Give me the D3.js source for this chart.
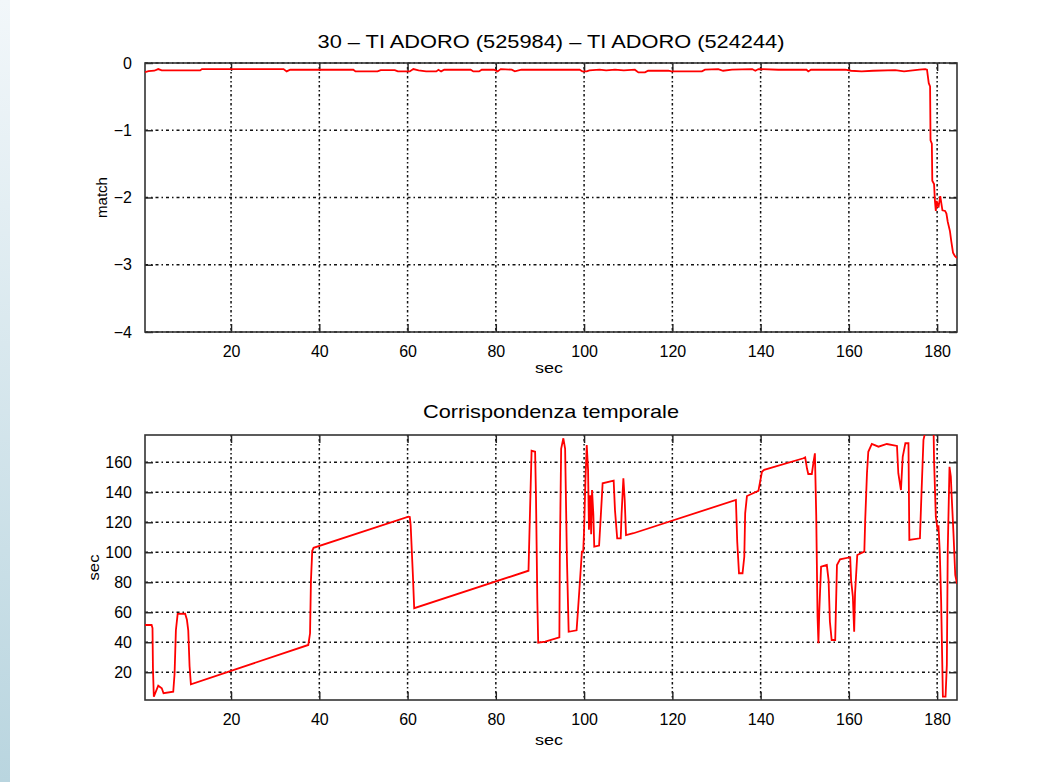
<!DOCTYPE html>
<html><head><meta charset="utf-8">
<script src="https://cdn.jsdelivr.net/npm/d3@7"></script>
<style>html,body{margin:0;padding:0;background:#fff;}svg{display:block;}</style>
</head><body>
<script>
// ---------- DATA ----------
const titleTop = "30 \u2013 TI ADORO (525984) \u2013 TI ADORO (524244)";
const titleBottom = "Corrispondenza temporale";
const xTicks = [20, 40, 60, 80, 100, 120, 140, 160, 180];
const matchTicks = [0, -1, -2, -3, -4];
const corrTicks = [20, 40, 60, 80, 100, 120, 140, 160];
const xDomain = [0.5, 184.5];
const matchDomain = [-4, 0];
const corrDomain = [1.5, 178.2];

// match vs time  [sec, match]
const matchSeries = [[0.5,-0.135],[1.3,-0.12],[2.6,-0.115],[3.5,-0.09],[4.3,-0.11],[13.0,-0.11],[13.4,-0.09],[31.9,-0.09],[32.6,-0.125],[33.4,-0.1],[47.7,-0.1],[48.2,-0.125],[53.2,-0.125],[53.9,-0.105],[57.1,-0.105],[57.8,-0.125],[60.5,-0.125],[61.3,-0.09],[62.5,-0.11],[64.2,-0.125],[66.5,-0.125],[67.0,-0.1],[67.6,-0.125],[68.3,-0.1],[74.3,-0.1],[74.9,-0.125],[76.2,-0.125],[76.8,-0.1],[79.6,-0.1],[80.4,-0.125],[81.1,-0.09],[83.6,-0.1],[84.3,-0.125],[85.8,-0.1],[99.0,-0.1],[99.6,-0.125],[100.6,-0.125],[101.2,-0.11],[103.5,-0.1],[105,-0.11],[107,-0.1],[109,-0.11],[111.5,-0.1],[112.3,-0.14],[113.8,-0.14],[114.5,-0.115],[119.1,-0.115],[119.8,-0.125],[126.7,-0.125],[127.4,-0.1],[130.4,-0.09],[131.5,-0.115],[133.5,-0.1],[138.1,-0.09],[138.8,-0.115],[139.5,-0.09],[144.0,-0.1],[150.4,-0.1],[150.8,-0.125],[151.4,-0.1],[159.2,-0.1],[160.5,-0.115],[162.9,-0.125],[165.5,-0.115],[170.5,-0.105],[172.5,-0.125],[176.0,-0.1],[177.3,-0.09],[177.7,-0.1],[178.1,-0.3],[178.4,-0.35],[178.5,-1.15],[178.8,-1.2],[178.9,-1.75],[179.3,-1.8],[179.5,-2.05],[179.7,-2.2],[179.9,-2.05],[180.3,-2.15],[180.7,-1.98],[181.2,-2.19],[181.8,-2.2],[182.1,-2.24],[182.4,-2.36],[182.9,-2.5],[183.2,-2.65],[183.6,-2.82],[184.0,-2.87],[184.5,-2.9]];

// time correspondence  [sec, sec]
const corrSeries = [[0.5,51.5],[2.0,51.5],[2.2,49.5],[2.3,22.7],[2.5,3.7],[3.5,11],[4.3,9.3],[4.7,6],[6.9,7],[7.2,19],[7.5,48],[7.9,58.9],[9.6,59],[10.0,55],[10.3,48],[10.6,24],[10.9,12],[37.5,38.2],[37.9,46],[38.1,80.9],[38.4,101],[38.7,103],[60.2,123.7],[60.5,123.5],[60.7,118],[61.2,85],[61.5,62.7],[87.4,87.7],[87.8,133.7],[88.1,167.7],[88.9,167],[89.1,137],[89.4,68],[89.6,39.7],[91.2,40.4],[94.4,43.3],[94.5,97],[94.8,169],[95.3,176],[95.7,169],[96.1,97],[96.5,47],[98.3,48],[98.9,73.7],[99.5,100.4],[99.8,100.4],[100.0,115],[100.3,148],[100.6,171.5],[100.9,155],[101.1,115],[101.4,138],[101.6,112],[101.8,141.5],[102.1,125],[102.3,103.7],[103.4,104.5],[103.8,125],[104.2,146],[106.7,147.7],[107.0,128],[107.5,109.3],[108.3,109.3],[108.5,126],[108.9,149.3],[109.2,135],[109.5,111.5],[111.2,112.7],[134.4,134.9],[134.7,107],[135.1,86],[135.9,86],[136.3,97],[136.5,126],[136.9,137.5],[139.5,141],[140.3,153.7],[140.8,155],[149.7,162.7],[150.1,163.3],[150.5,156],[150.8,152.2],[151.6,152.2],[152.0,160.4],[152.3,166],[152.6,124.9],[152.9,57],[153.1,39.3],[153.3,61.5],[153.7,90.4],[155.0,91.5],[155.4,81.5],[155.7,53.7],[156.1,41.5],[156.9,41.5],[157.3,91.5],[158.0,95.3],[160.3,96.7],[160.5,81.5],[160.9,70.4],[161.2,47],[161.4,72.7],[161.9,98.2],[163.5,100.4],[163.7,121.5],[164.1,152.7],[164.4,167],[165.2,172.2],[166.7,170.4],[168.6,172.2],[170.9,170.9],[171.2,152.7],[171.8,141.5],[172.2,163.7],[172.8,172.7],[173.5,172.7],[173.7,108.2],[176.1,109.3],[176.4,134.9],[176.9,175],[177.3,180],[179.2,180],[179.3,161.5],[179.7,123.7],[180.1,114.9],[180.3,118],[180.6,100],[180.9,68.2],[181.3,3.7],[181.9,3.7],[182.2,24.9],[182.4,101.5],[182.8,157],[183.1,150.4],[183.3,137],[183.7,112.7],[184.1,84.9],[184.5,79]];

// ---------- DRAW ----------
const W = 1038, H = 782;
const svg = d3.select("body").append("svg").attr("width", W).attr("height", H)
  .style("font-family", "'Liberation Sans', Arial, Helvetica, sans-serif");

const defs = svg.append("defs");
const grad = defs.append("linearGradient").attr("id", "sideGrad").attr("x1", 0).attr("y1", 0).attr("x2", 0).attr("y2", 1);
grad.append("stop").attr("offset", "0%").attr("stop-color", "#f2f7fa");
grad.append("stop").attr("offset", "100%").attr("stop-color", "#b9d5df");
svg.append("rect").attr("x", 0).attr("y", 0).attr("width", 10).attr("height", H).attr("fill", "url(#sideGrad)");

const left = 145, right = 957;
const x = d3.scaleLinear().domain(xDomain).range([left, right]);

function label(sel, len) {
  return sel.attr("textLength", len).attr("lengthAdjust", "spacingAndGlyphs");
}

function panel(id, top, bottom, yDomain, yTicks, series, title, titleY, titleLen, ylabel, ylabelX, ylabelLen, xlabelY, fmt) {
  const y = d3.scaleLinear().domain(yDomain).range([bottom, top]);
  const g = svg.append("g");
  defs.append("clipPath").attr("id", id).append("rect")
    .attr("x", left).attr("y", top).attr("width", right - left).attr("height", bottom - top);

  // grid
  g.append("g").selectAll("line").data(xTicks).join("line")
    .attr("x1", d => x(d)).attr("x2", d => x(d)).attr("y1", top).attr("y2", bottom)
    .attr("stroke", "#111").attr("stroke-width", 1.5).attr("stroke-dasharray", "1.5,2.5,2.5,2.5");
  g.append("g").selectAll("line").data(yTicks).join("line")
    .attr("y1", d => y(d)).attr("y2", d => y(d)).attr("x1", left).attr("x2", right)
    .attr("stroke", "#111").attr("stroke-width", 1.5).attr("stroke-dasharray", "3,3,1.5,3");

  // axes (ticks inward)
  const tl = 8;
  g.append("g").attr("transform", `translate(0,${bottom})`)
    .call(d3.axisBottom(x).tickValues(xTicks).tickSizeInner(-tl).tickSizeOuter(0).tickPadding(14).tickFormat(d3.format("d")))
    .call(a => a.select(".domain").remove());
  g.append("g").attr("transform", `translate(0,${top})`)
    .call(d3.axisTop(x).tickValues(xTicks).tickSizeInner(-tl).tickSizeOuter(0).tickFormat(""))
    .call(a => a.select(".domain").remove());
  g.append("g").attr("transform", `translate(${left},0)`)
    .call(d3.axisLeft(y).tickValues(yTicks).tickSizeInner(-tl).tickSizeOuter(0).tickPadding(13).tickFormat(fmt))
    .call(a => a.select(".domain").remove());
  g.append("g").attr("transform", `translate(${right},0)`)
    .call(d3.axisRight(y).tickValues(yTicks).tickSizeInner(-tl).tickSizeOuter(0).tickFormat(""))
    .call(a => a.select(".domain").remove());
  g.selectAll(".tick line").attr("stroke", "#222").attr("stroke-width", 1.4);
  g.selectAll(".tick text").attr("font-size", 16).attr("fill", "#000")
    .attr("font-family", "'Liberation Sans', Arial, sans-serif");

  // frame
  g.append("rect").attr("x", left).attr("y", top).attr("width", right - left).attr("height", bottom - top)
    .attr("fill", "none").attr("stroke", "#333").attr("stroke-width", 1.6);

  // data line
  const line = d3.line().x(d => x(d[0])).y(d => y(d[1]));
  g.append("path").datum(series).attr("d", line).attr("clip-path", `url(#${id})`)
    .attr("fill", "none").attr("stroke", "#ff0000").attr("stroke-width", 1.8).attr("stroke-linejoin", "miter");

  // labels
  label(svg.append("text").attr("x", 551).attr("y", titleY).attr("text-anchor", "middle")
    .attr("font-size", 19).attr("fill", "#000").text(title), titleLen);
  label(svg.append("text").attr("transform", `translate(${ylabelX},${(top + bottom) / 2}) rotate(-90)`)
    .attr("text-anchor", "middle").attr("font-size", 15).attr("fill", "#000").text(ylabel), ylabelLen);
  label(svg.append("text").attr("x", 549).attr("y", xlabelY).attr("text-anchor", "middle")
    .attr("font-size", 14).attr("fill", "#000").text("sec"), 28);
}

panel("clipTop", 63, 332, matchDomain, matchTicks, matchSeries, titleTop, 48, 467, "match", 107, 41, 373,
  d => d === 0 ? "0" : "\u2212" + Math.abs(d));
panel("clipBot", 435, 700, corrDomain, corrTicks, corrSeries, titleBottom, 418, 256, "sec", 99, 26, 745, d3.format("d"));
</script>
</body></html>
